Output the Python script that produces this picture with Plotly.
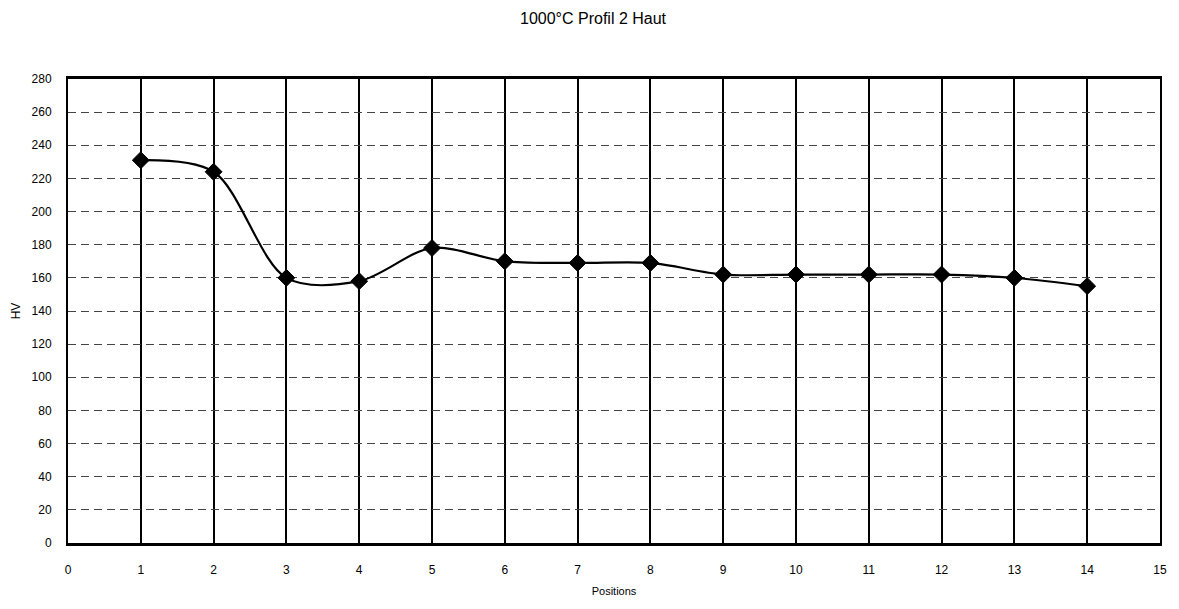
import plotly.graph_objects as go

# Hardness profile along the sample (HV at each measuring position)
positions = [1, 2, 3, 4, 5, 6, 7, 8, 9, 10, 11, 12, 13, 14]
hv_values = [231, 224, 160, 158, 178, 170, 169, 169, 162, 162, 162, 162, 160, 155]

x_ticks = list(range(0, 16))
y_ticks = list(range(0, 281, 20))

fig = go.Figure()

fig.add_trace(go.Scatter(
    x=positions,
    y=hv_values,
    mode="lines+markers",
    line=dict(color="black", width=2.2, shape="spline", smoothing=0.9),
    marker=dict(symbol="diamond", size=13, color="black",
                line=dict(color="black", width=1)),
    showlegend=False,
    hoverinfo="x+y",
))

font_family = "Liberation Sans, Arial, sans-serif"

fig.update_layout(
    width=1179,
    height=609,
    paper_bgcolor="white",
    plot_bgcolor="white",
    margin=dict(l=68, r=16, t=79, b=64),
    title=dict(
        text="1000°C Profil 2 Haut",
        x=0.503, xanchor="center",
        y=0.97, yanchor="middle",
        font=dict(family=font_family, size=16, color="black"),
    ),
    xaxis=dict(
        range=[0, 15],
        tickmode="array",
        tickvals=x_ticks,
        ticktext=[str(v) for v in x_ticks],
        showgrid=True,
        gridcolor="black",
        gridwidth=1.5,
        showline=True,
        linecolor="black",
        linewidth=2.5,
        mirror=True,
        ticks="",
        ticklabelstandoff=14,
        zeroline=False,
        tickfont=dict(family=font_family, size=12, color="black"),
        title=dict(text="Positions", standoff=12,
                   font=dict(family=font_family, size=11, color="black")),
    ),
    yaxis=dict(
        range=[0, 280],
        tickmode="array",
        tickvals=y_ticks,
        ticktext=[str(v) for v in y_ticks],
        showgrid=True,
        gridcolor="#444444",
        gridwidth=1,
        griddash="8px,5px",
        showline=True,
        linecolor="black",
        linewidth=2,
        mirror=True,
        ticks="",
        ticklabelstandoff=12,
        zeroline=False,
        tickfont=dict(family=font_family, size=12, color="black"),
        title=dict(text="HV", standoff=8,
                   font=dict(family=font_family, size=12, color="black")),
    ),
)

fig.write_html("out.html")
